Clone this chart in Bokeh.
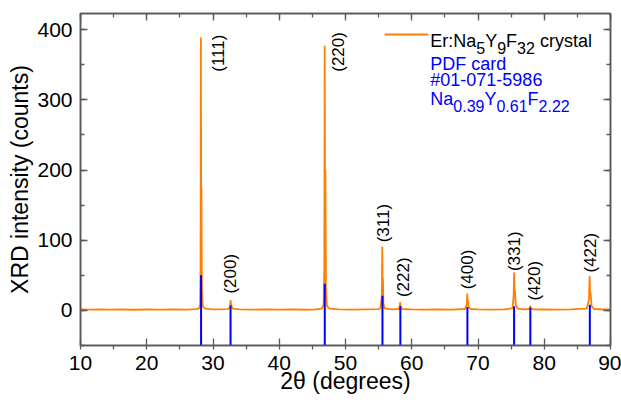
import math
from bokeh.plotting import figure
from bokeh.models import (Range1d, LinearAxis, SingleIntervalTicker, Label,
                          CustomJSTickFormatter, BoxAnnotation)
from bokeh.core.properties import value
from bokeh.embed import file_html
from bokeh.resources import INLINE

# ---------------- data ----------------
# measured XRD trace (2theta in degrees, intensity in counts)
xrd_theta = [10.0, 11.5, 13.0, 14.5, 16.0, 18.0, 20.0, 22.0, 24.0, 26.0, 27.5,
             27.9, 28.05, 28.12, 28.17, 28.22, 28.26, 28.32, 28.45, 28.8,
             30.0, 32.2, 32.55, 32.65, 32.72, 32.8, 32.95,
             34.0, 36.0, 38.0, 40.0, 42.0, 44.0, 45.5,
             46.4, 46.7, 46.8, 46.86, 46.92, 46.97, 47.05, 47.2, 47.6,
             49.0, 51.0, 53.0, 55.0,
             55.3, 55.48, 55.55, 55.6, 55.65, 55.72, 55.9,
             57.0, 58.1, 58.25, 58.32, 58.5,
             60.0, 62.0, 64.0, 66.0,
             68.0, 68.3, 68.38, 68.44, 68.5, 68.6, 68.9,
             70.0, 72.0, 74.0,
             75.2, 75.38, 75.45, 75.52, 75.58, 75.7, 76.0,
             77.0, 77.75, 77.88, 77.98, 78.3,
             80.0, 82.0, 84.0,
             86.4, 86.75, 86.85, 86.93, 87.0, 87.15, 87.5,
             89.0, 90.0]
xrd_counts = [1.5, 1.2, 1.6, 1.0, 1.4, 0.9, 1.3, 1.1, 1.6, 1.2, 1.8,
              3.0, 8.0, 60.0, 388.0, 120.0, 175.0, 30.0, 6.0, 2.5,
              1.5, 1.8, 4.0, 14.0, 9.0, 6.0, 2.5,
              1.5, 1.0, 1.4, 1.1, 1.5, 0.9, 1.6,
              2.5, 8.0, 60.0, 376.0, 130.0, 200.0, 30.0, 6.0, 2.5,
              1.6, 1.2, 1.5, 1.8,
              4.0, 20.0, 90.0, 40.0, 45.0, 10.0, 3.0,
              1.5, 2.0, 11.0, 7.0, 2.0,
              1.4, 1.1, 1.5, 1.2,
              2.0, 8.0, 23.0, 12.0, 13.0, 4.0, 2.0,
              1.4, 1.2, 1.5,
              3.0, 20.0, 53.0, 25.0, 28.0, 8.0, 2.5,
              1.4, 2.0, 6.0, 3.0, 1.5,
              1.3, 1.1, 1.5,
              2.5, 15.0, 48.0, 22.0, 25.0, 6.0, 2.0,
              1.3, 1.5]

# PDF card #01-071-5986 reference lines
pdf_theta = [28.2, 32.65, 46.87, 55.58, 58.28, 68.4, 75.45, 77.9, 86.88]
pdf_counts = [50, 7, 38, 21, 6, 5, 6, 4, 8]

# Miller indices labels
hkl_labels = ["(111)", "(200)", "(220)", "(311)", "(222)", "(400)", "(331)", "(420)", "(422)"]
hkl_x = [30.9, 32.6, 49.0, 55.8, 58.8, 68.4, 75.5, 78.5, 87.0]
hkl_y = [340, 24, 340, 97, 19, 30, 56, 14, 54]

x_lo, x_hi = 10, 90
y_lo, y_hi = -50, 423

x_title = "2θ (degrees)"
y_title = "XRD intensity (counts)"

# ---------------- styling ----------------
ORANGE = "#FF8000"
BLUE = "#0000FF"
AXC = "#5a5a5a"
FONT = "Liberation Sans"

p = figure(width=621, height=400, output_backend="svg", toolbar_location=None,
           x_range=Range1d(x_lo, x_hi), y_range=Range1d(y_lo, y_hi),
           min_border_left=80, min_border_right=11, min_border_top=13,
           min_border_bottom=55, x_axis_type=None, y_axis_type=None)
p.xgrid.visible = False
p.ygrid.visible = False
p.outline_line_color = AXC
p.outline_line_width = 1.5
p.background_fill_color = "white"
p.border_fill_color = "white"


def make_axis(kind, labels=True):
    iv = 10 if kind == "x" else 100
    ax = LinearAxis(ticker=SingleIntervalTicker(interval=iv, num_minor_ticks=2))
    ax.axis_line_color = AXC
    ax.axis_line_width = 1.5
    ax.major_tick_line_color = AXC
    ax.minor_tick_line_color = AXC
    ax.major_tick_line_width = 1.3
    ax.minor_tick_line_width = 1.3
    ax.major_tick_in = 7
    ax.major_tick_out = 0
    ax.minor_tick_in = 4
    ax.minor_tick_out = 0
    ax.axis_label_text_font = FONT
    ax.axis_label_text_font_size = "23px"
    ax.axis_label_text_font_style = "normal"
    ax.axis_label_text_color = "black"
    if labels:
        ax.major_label_text_font = FONT
        ax.major_label_text_font_size = "21px"
        ax.major_label_text_color = "black"
    else:
        ax.formatter = CustomJSTickFormatter(code="return ''")
        ax.major_label_standoff = 0
    return ax


bottom = make_axis("x")
bottom.axis_label = x_title
bottom.minor_tick_in = 0
bottom.minor_tick_out = 4
bottom.major_label_standoff = 6
bottom.axis_label_standoff = -5
p.add_layout(bottom, "below")

left = make_axis("y")
left.axis_label = y_title
left.major_label_standoff = 8
left.axis_label_standoff = 1
p.add_layout(left, "left")

p.add_layout(make_axis("x", labels=False), "above")
p.add_layout(make_axis("y", labels=False), "right")

# frame box (safety for the plot border)
p.add_layout(BoxAnnotation(left=x_lo, right=x_hi, bottom=y_lo, top=y_hi,
                           fill_alpha=0, line_color=AXC, line_width=1.5,
                           level="overlay"))

# measured trace
p.line(xrd_theta, xrd_counts, line_color=ORANGE, line_width=1.8, line_join="round")

# PDF reference sticks, from bottom of the plot
p.segment(x0=pdf_theta, y0=[y_lo] * len(pdf_theta), x1=pdf_theta, y1=pdf_counts,
          line_color=BLUE, line_width=2)

# hkl labels
p.text(x=hkl_x, y=hkl_y, text=hkl_labels, angle=math.pi / 2,
       text_align="left", text_baseline="middle",
       text_font=value(FONT), text_font_size="17px", text_color="black")

# ---------------- legend (manual, with subscripts) ----------------
W = {'E': 667, 'r': 333, ':': 278, 'N': 722, 'a': 556, 'Y': 667, 'F': 611, ' ': 278,
     'c': 500, 'y': 500, 's': 500, 't': 278, 'l': 222, 'P': 667, 'D': 722, 'd': 556,
     '#': 556, '-': 333, '.': 278}


def tw(s, size):
    return sum(W.get(ch, 556) for ch in s) * size / 1000.0


LEG_X, LEG_Y = 62.8, 383.6   # anchor (start of first legend text, baseline)
MAIN, SUB = 18, 16

# legend sample line
p.line([LEG_X - 6.9, LEG_X - 0.3], [LEG_Y + 9.5, LEG_Y + 9.5],
       line_color=ORANGE, line_width=1.8)


def rich(pieces, dy_line, color):
    xo = 0.0
    for txt, is_sub in pieces:
        size = SUB if is_sub else MAIN
        lead = len(txt) - len(txt.lstrip(" "))
        xo += tw(" " * lead, size)
        txt = txt.lstrip(" ")
        p.add_layout(Label(x=LEG_X, y=LEG_Y, x_offset=xo,
                           y_offset=dy_line - (7 if is_sub else 0),
                           text=txt, text_font=FONT, text_font_size=f"{size}px",
                           text_color=color, text_baseline="alphabetic",
                           text_align="left"))
        xo += tw(txt, size)


rich([("Er:Na", False), ("5", True), ("Y", False), ("9", True), ("F", False),
      ("32", True), (" crystal", False)], 0, "black")
rich([("PDF card", False)], -22.5, BLUE)
rich([("#01-071-5986", False)], -39, BLUE)
rich([("Na", False), ("0.39", True), ("Y", False), ("0.61", True), ("F", False),
      ("2.22", True)], -57.5, BLUE)

open("out.html", "w").write(file_html(p, INLINE))
